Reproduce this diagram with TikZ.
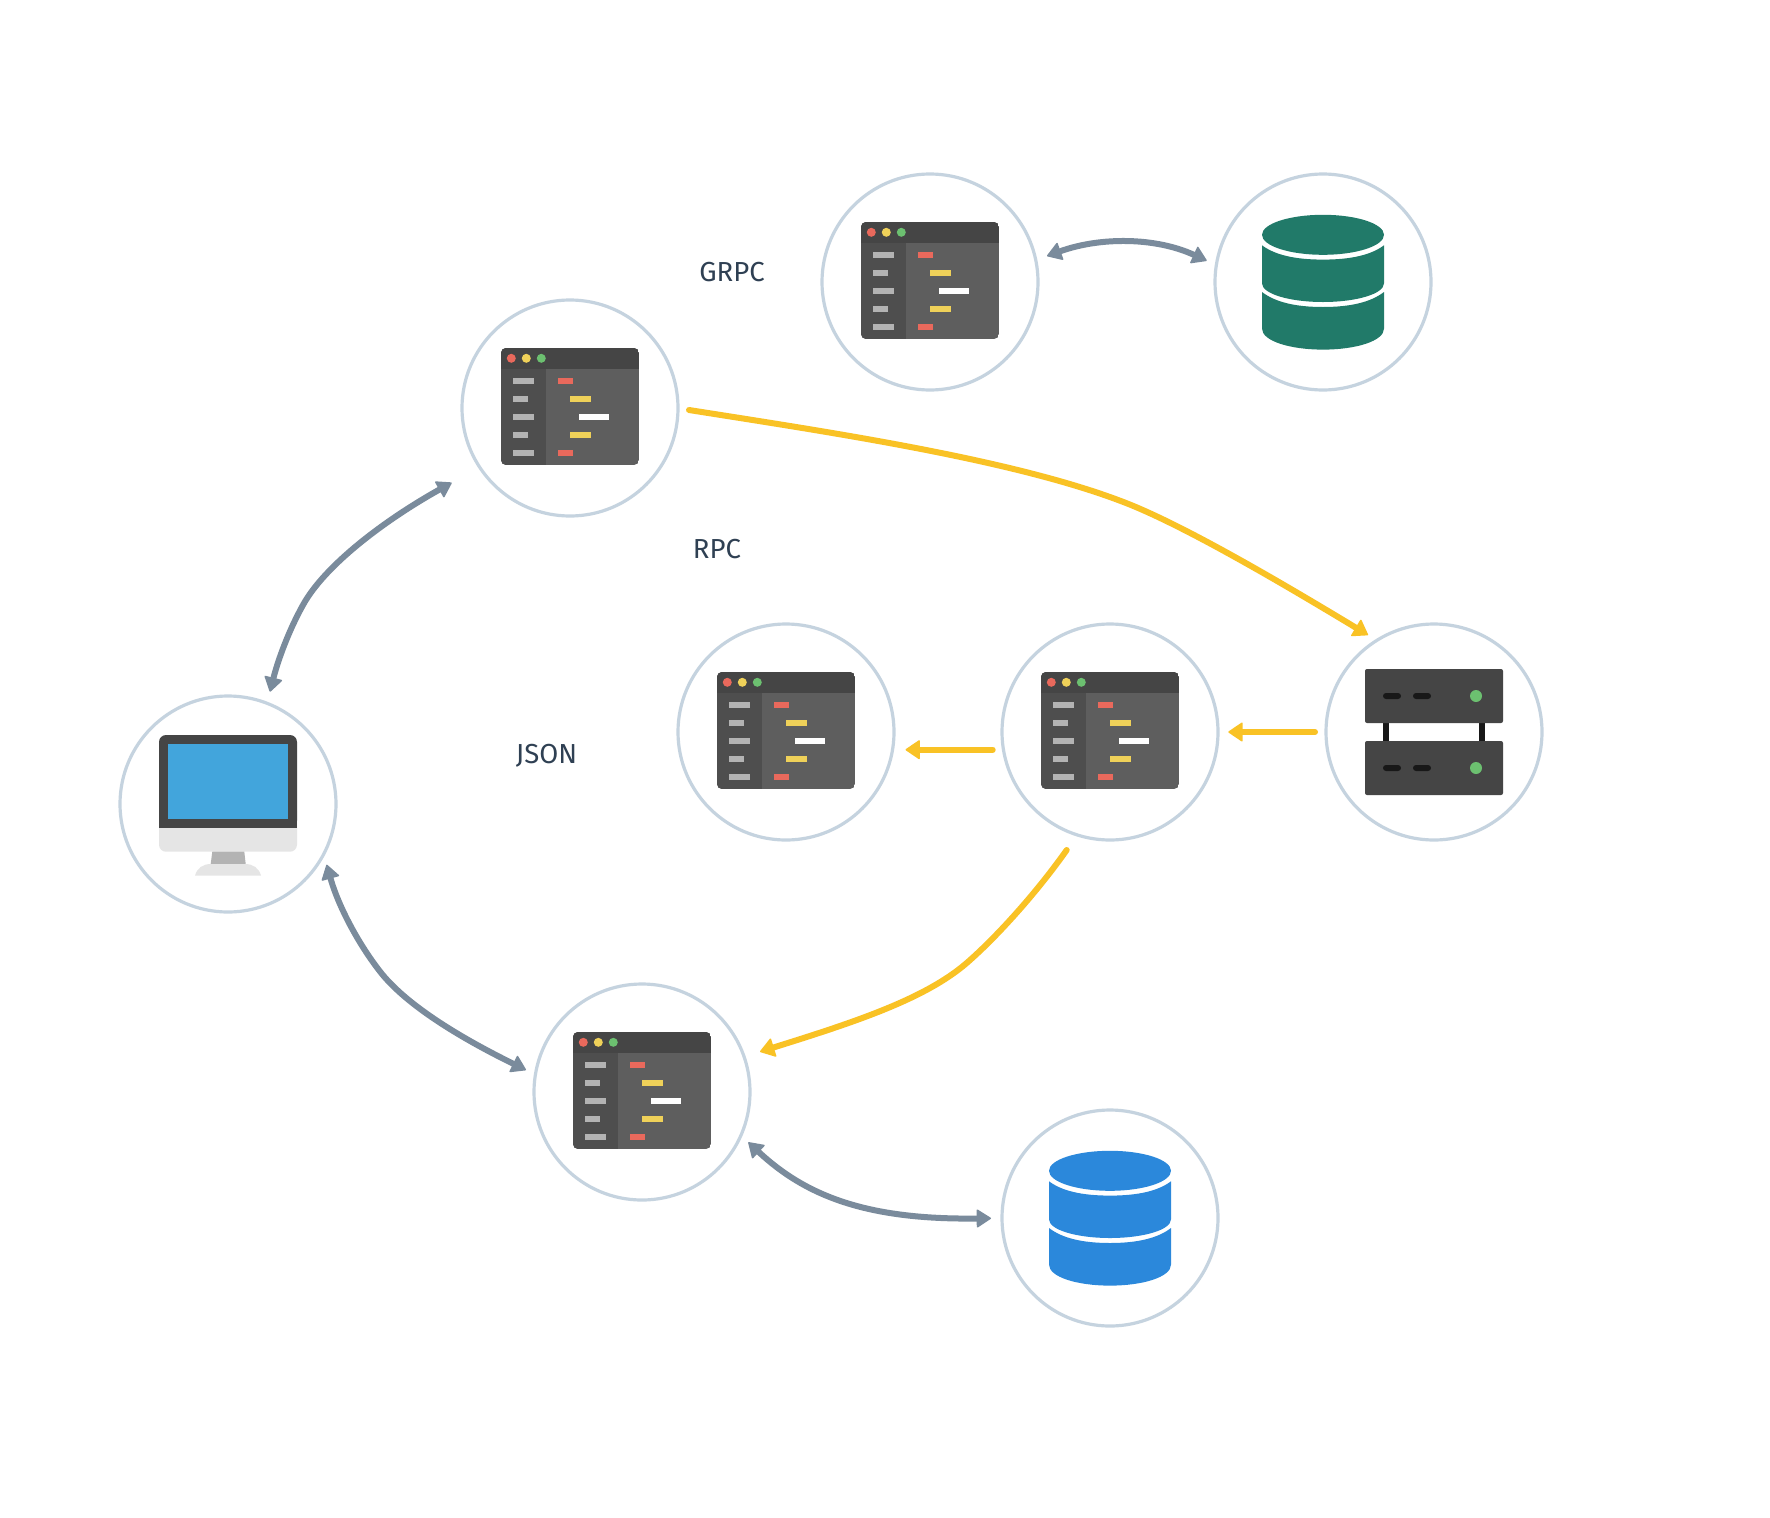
\documentclass[tikz,border=0pt]{standalone}
\usepackage{fontspec}
\setmainfont{Fira Sans}
\usetikzlibrary{arrows.meta}
\definecolor{ringc}{HTML}{C5D3DF}
\definecolor{grayarrow}{HTML}{7A8B9C}
\definecolor{yellowarrow}{HTML}{F9C225}
\definecolor{labelc}{HTML}{2F4053}
\definecolor{darkc}{HTML}{454545}
\definecolor{sidec}{HTML}{4E4E4E}
\definecolor{mainc}{HTML}{5E5E5E}
\definecolor{barc}{HTML}{B3B3B3}
\definecolor{redc}{HTML}{E9695C}
\definecolor{yelc}{HTML}{EFD159}
\definecolor{grnc}{HTML}{6CC070}
\definecolor{screenc}{HTML}{42A5DC}
\definecolor{silverc}{HTML}{E5E5E5}
\definecolor{neckc}{HTML}{B3B3B3}
\definecolor{slotc}{HTML}{181818}
\definecolor{dbgreen}{HTML}{217A69}
\definecolor{dbblue}{HTML}{2B88DB}
\tikzset{
  ring/.style={circle,draw=ringc,line width=3.2pt,fill=white,minimum size=216pt,inner sep=0pt},
  grayline/.style={draw=grayarrow,line width=6pt,{Triangle[length=15pt,width=19pt,line width=1.5pt,round]}-{Triangle[length=15pt,width=19pt,line width=1.5pt,round]}},
  yellowline/.style={draw=yellowarrow,line width=6pt,line cap=round,-{Triangle[length=15pt,width=20pt,line width=1.5pt,round]}},
  lab/.style={text=labelc,font=\fontsize{27.5}{32}\selectfont,inner sep=0pt}
}
\newcommand{\winicon}[1]{%
  \begin{scope}[shift={(#1.center)}]
    \begin{scope}
      \clip[rounded corners=5pt] (-69,-60) rectangle (69,57);
      \fill[mainc] (-69,-60) rectangle (69,57);
      \fill[sidec] (-69,-60) rectangle (-24,57);
      \fill[darkc] (-69,-60) rectangle (69,-39);
    \end{scope}
    \fill[redc] (-58.7,-49.7) circle (4.5);
    \fill[yelc] (-43.7,-49.7) circle (4.5);
    \fill[grnc] (-28.7,-49.7) circle (4.5);
    \foreach \yy/\xx in {-27/-36,-9/-42,9/-36,27/-42,45/-36}
      \fill[barc] (-57,\yy-3) rectangle (\xx,\yy+3);
    \fill[redc] (-12,-30) rectangle (3,-24);
    \fill[yelc] (0,-12) rectangle (21,-6);
    \fill[white] (9,6) rectangle (39,12);
    \fill[yelc] (0,24) rectangle (21,30);
    \fill[redc] (-12,42) rectangle (3,48);
  \end{scope}}
\newcommand{\dbicon}[2]{%
  \begin{scope}[shift={(#1.center)}]
    \fill[#2] (0,-47.2) ellipse [x radius=61,y radius=20];
    \fill[#2] (-61,-36.7) .. controls (-48,-27) and (-28,-22.4) .. (0,-22.4)
      .. controls (28,-22.4) and (48,-27) .. (61,-36.7) -- (61,1.3)
      .. controls (61,12) and (33,20) .. (0,20) .. controls (-33,20) and (-61,12) .. (-61,1.3) -- cycle;
    \fill[#2] (-61,10) .. controls (-48,20) and (-28,25) .. (0,25)
      .. controls (28,25) and (48,20) .. (61,10) -- (61,46.6)
      .. controls (61,59) and (33,67.6) .. (0,67.6) .. controls (-33,67.6) and (-61,59) .. (-61,46.6) -- cycle;
  \end{scope}}
\begin{document}
\begin{tikzpicture}[x=1pt,y=-1pt]
\useasboundingbox (0,0) rectangle (1770,1518);
\fill[white] (0,0) rectangle (1770,1518);

\node[ring] (comp) at (228,804) {};
\node[ring] (win1) at (570,408) {};
\node[ring] (win2) at (930,282) {};
\node[ring] (dbg) at (1323,282) {};
\node[ring] (win3) at (786,732) {};
\node[ring] (win4) at (1110,732) {};
\node[ring] (srv) at (1434,732) {};
\node[ring] (win5) at (642,1092) {};
\node[ring] (dbb) at (1110,1218) {};

\winicon{win1}\winicon{win2}\winicon{win3}\winicon{win4}\winicon{win5}
\dbicon{dbg}{dbgreen}
\dbicon{dbb}{dbblue}

% computer
\begin{scope}[shift={(comp.center)}]
  \fill[silverc,rounded corners=7pt] (-69,0) rectangle (69,47.7);
  \fill[silverc] (-69,0) rectangle (69,30);
  \fill[darkc,rounded corners=7pt] (-69,-69) rectangle (69,23.7);
  \fill[darkc] (-69,-20) rectangle (69,23.7);
  \fill[silverc] (-69,23.7) rectangle (69,34);
  \fill[screenc] (-60,-60.3) rectangle (60,15);
  \fill[neckc] (-15.7,47.7) -- (16.3,47.7) -- (17.7,60) -- (-17.3,60) -- cycle;
  \fill[silverc] (-33,71.7) .. controls (-31,64) and (-25,60) .. (-17,60) -- (17,60) .. controls (25,60) and (31,64) .. (33,71.7) -- cycle;
\end{scope}

% server
\begin{scope}[shift={(srv.center)}]
  \fill[slotc] (-51,-10) rectangle (-45,10);
  \fill[slotc] (45,-10) rectangle (51,10);
  \foreach \yy in {-36,36} {
    \fill[darkc,rounded corners=2pt] (-69,\yy-27) rectangle (69,\yy+27);
    \fill[slotc,rounded corners=3pt] (-51,\yy-3) rectangle (-33,\yy+3);
    \fill[slotc,rounded corners=3pt] (-21,\yy-3) rectangle (-3,\yy+3);
    \fill[grnc] (42,\yy) circle (6);
  }
\end{scope}

% connectors
\draw[grayline] ([shift={(117,-26)}]win2.center) .. controls (1100,237) and (1155,237) .. ([shift={(-116.3,-21.3)}]dbg.center);
\draw[grayline] ([shift={(42,-112.3)}]comp.center) .. controls (278,660) and (289,630) .. (303,605)
  .. controls (325,565) and (385,520) .. ([shift={(-118.3,74.7)}]win1.center);
\draw[grayline] ([shift={(98.7,60.7)}]comp.center) .. controls (338,905) and (358,944) .. (382,974)
  .. controls (410,1008) and (465,1040) .. ([shift={(-116,-22)}]win5.center);
\draw[grayline] ([shift={(106.3,50.3)}]win5.center) .. controls (805,1195) and (865,1220) .. ([shift={(-119,0.3)}]dbb.center);
\draw[yellowline] ([shift={(119,2)}]win1.center) .. controls (835,433) and (1016,460) .. (1126,503)
  .. controls (1190,528) and (1300,594) .. ([shift={(-66,-97)}]srv.center);
\draw[yellowline] ([shift={(-119,0)}]srv.center) -- ([shift={(118.3,0)}]win4.center);
\draw[yellowline] ([shift={(-117.3,17.7)}]win4.center) -- ([shift={(119.5,17.7)}]win3.center);
\draw[yellowline] ([shift={(-43.3,118)}]win4.center) .. controls (1040,888) and (1000,934) .. (966.7,963)
  .. controls (925,999) and (855,1022) .. ([shift={(118,-40.3)}]win5.center);

% labels
\node[lab] (grpc) at (732,272) {GRPC};
\node[lab] (rpc) at (717,549) {RPC};
\node[lab] (json) at (546.5,756) {JSON};
\end{tikzpicture}
\end{document}
